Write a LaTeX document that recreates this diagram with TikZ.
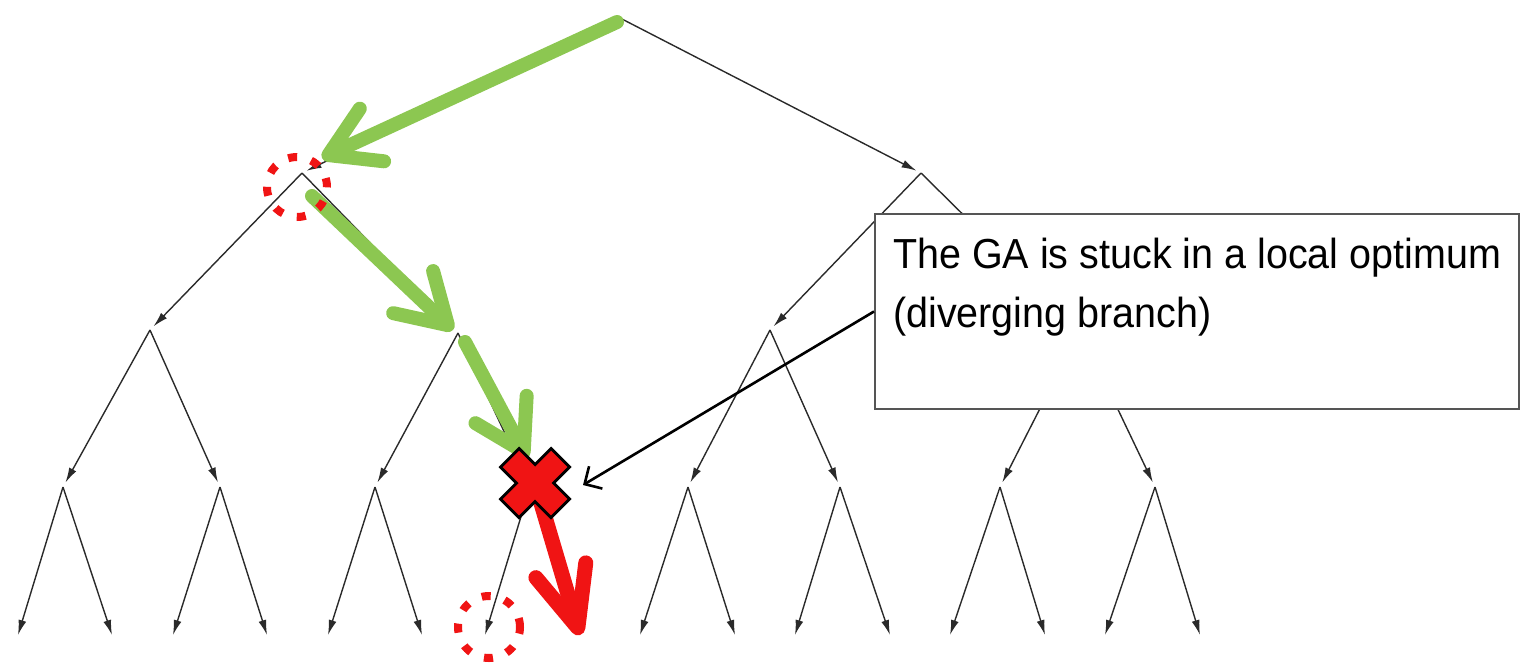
\documentclass[tikz,border=0pt]{standalone}
\usepackage{fontspec}
\setmainfont{Liberation Sans}
\usetikzlibrary{arrows.meta,positioning}
\definecolor{gagreen}{HTML}{8CC751}
\definecolor{gared}{HTML}{F01414}
\definecolor{gagray}{HTML}{2A2A2A}
\definecolor{boxgray}{HTML}{555555}

\begin{document}
\begin{tikzpicture}[x=1pt, y=-1pt,
  branch/.style={draw=gagray, line width=1.4pt, -{Latex[length=15pt,width=8pt]}},
  inner/.style={shorten >=5pt},
  greenarr/.style={draw=gagreen, line width=14pt, line cap=round,
                   -{Straight Barb[length=48pt,width=58pt,round]}},
  redarr/.style={draw=gared, line width=15pt, line cap=round,
                 -{Straight Barb[length=60pt,width=52pt,round]}},
  picked/.style={draw=gared, line width=8pt, dash pattern=on 9pt off 14.5pt},
  notebox/.style={draw=boxgray, line width=2pt, fill=white, inner sep=0pt,
                  minimum width=644pt, minimum height=195pt},
  notetext/.style={font=\fontsize{42}{50}\selectfont\addfontfeature{FakeStretch=0.94},
                   text=black, inner sep=0pt},
  pointer/.style={draw=black, line width=2.6pt, -{Straight Barb[length=13pt,width=26pt]}},
]
\useasboundingbox (0,0) rectangle (1520,665);

% Knoten des Baums (Wurzel, Ebenen 1-4)
\coordinate (n0)  at (620,18);
\coordinate (n1)  at (302,173);  \coordinate (n2)  at (921,173);
\coordinate (n3)  at (150,330);  \coordinate (n4)  at (458,333);
\coordinate (n5)  at (770,330);  \coordinate (n6)  at (1080,330);
\coordinate (n7)  at (63,487);   \coordinate (n8)  at (220,487);
\coordinate (n9)  at (375,487);  \coordinate (n10) at (530,487);
\coordinate (n11) at (688,487);  \coordinate (n12) at (840,487);
\coordinate (n13) at (1000,487); \coordinate (n14) at (1155,487);
\coordinate (n15) at (18,635);   \coordinate (n16) at (112,635);
\coordinate (n17) at (173,635);  \coordinate (n18) at (267,635);
\coordinate (n19) at (328,635);  \coordinate (n20) at (422,635);
\coordinate (n21) at (485,635);  \coordinate (n22) at (580,635);
\coordinate (n23) at (640,635);  \coordinate (n24) at (735,635);
\coordinate (n25) at (795,635);  \coordinate (n26) at (890,635);
\coordinate (n27) at (950,635);  \coordinate (n28) at (1045,635);
\coordinate (n29) at (1105,635); \coordinate (n30) at (1200,635);

% Kanten
\foreach \a/\b in {n0/n1,n0/n2,n1/n3,n1/n4,n2/n5,n2/n6,n3/n7,n3/n8,n4/n9,n4/n10,
                   n5/n11,n5/n12,n6/n13,n6/n14}
  \draw[branch, inner] (\a) -- (\b);
\foreach \a/\b in {n7/n15,n7/n16,n8/n17,n8/n18,n9/n19,n9/n20,n10/n21,n10/n22,
                   n11/n23,n11/n24,n12/n25,n12/n26,n13/n27,n13/n28,n14/n29,n14/n30}
  \draw[branch] (\a) -- (\b);

% Kommentar
\node[notebox, anchor=north west] (note) at (874,213) {};
\node[notetext, anchor=base west] (line1) at (893,268) {The GA is stuck in a local optimum};
\node[notetext, anchor=base west] (line2) at ([yshift=-59pt]line1.base west) {(diverging branch)};

% Suchpfad
\coordinate (g0) at (617,22);  \coordinate (g1) at (322,158);
\coordinate (g2) at (312,196); \coordinate (g3) at (453,330);
\coordinate (g4) at (465,342); \coordinate (g5) at (527,458);
\draw[greenarr] (g0) -- (g1);
\draw[greenarr] (g2) -- (g3);
\draw[greenarr] (g4) -- (g5);

% Abweichung
\coordinate (cross) at (535,483);
\draw[redarr] (cross) -- (n22);
\draw[black, line width=29pt, line cap=rect]
  ([shift={(-16,-16)}]cross) -- ([shift={(16,16)}]cross)
  ([shift={(-16,16)}]cross) -- ([shift={(16,-16)}]cross);
\draw[gared, line width=23pt, line cap=rect]
  ([shift={(-16,-16)}]cross) -- ([shift={(16,16)}]cross)
  ([shift={(-16,16)}]cross) -- ([shift={(16,-16)}]cross);

% markierte Knoten
\draw[picked] (297,187) circle[radius=30pt];
\draw[picked] (489,627) circle[radius=31pt];

\coordinate (hit) at (583,485);
\draw[pointer] (note.west) -- (hit);
\end{tikzpicture}
\end{document}
